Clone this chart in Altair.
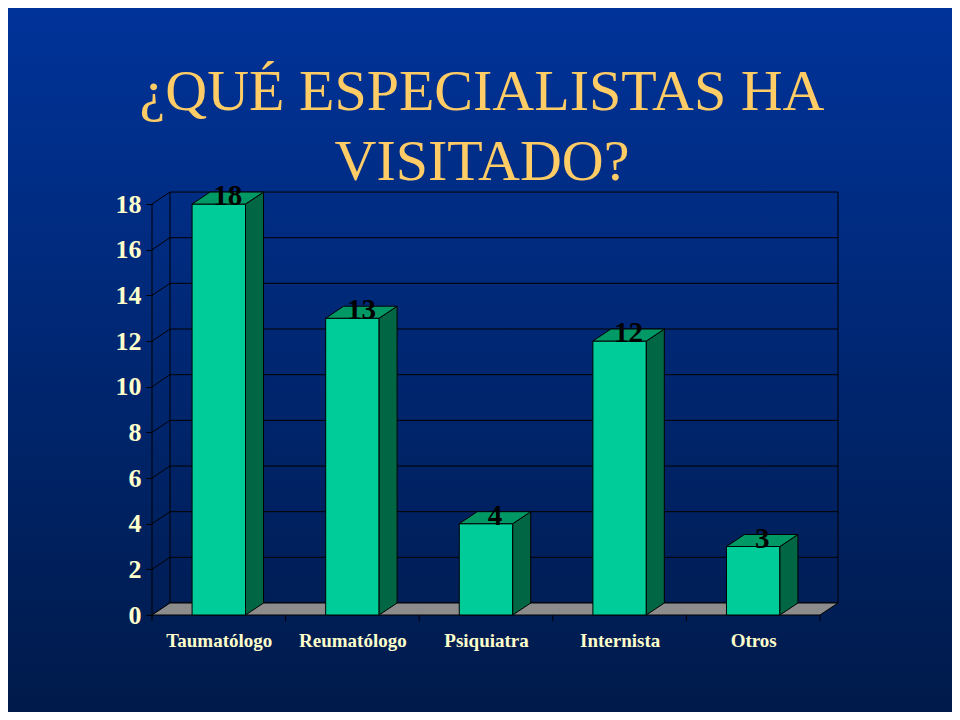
import altair as alt
import pandas as pd

# ---------------- data ----------------
CATEGORIES = ["Taumatólogo", "Reumatólogo", "Psiquiatra", "Internista", "Otros"]
VALUES = [18, 13, 4, 12, 3]
Y_TICKS = [0, 2, 4, 6, 8, 10, 12, 14, 16, 18]
TITLE_LINES = ["¿QUÉ ESPECIALISTAS HA", "VISITADO?"]

# ---------------- style ----------------
CW, CH = 944, 704     # whole chart
PX_X = 133.6          # pixels per category
PX_Y = 22.83          # pixels per value unit
DX = 18 / PX_X        # 3-D depth, horizontal (data units)
DY = 12 / PX_Y        # 3-D depth, vertical (data units)
HALF = 0.2            # half bar width (category units)
TICK = 6 / PX_Y
YMAX = max(Y_TICKS)
N = len(CATEGORIES)

X0, X1 = -0.5, N - 0.5 + DX
Y0, Y1 = 0, YMAX + DY
LEFT, BOTTOM = 144, 607                 # front axes position inside the chart
RIGHT = LEFT + (X1 - X0) * PX_X
TOP_ = BOTTOM - (Y1 - Y0) * PX_Y

FRONT = "#00CC99"
SIDE = "#006644"
TOP = "#009966"
FLOOR = "#8C8C8C"
LABEL = "#FFFFCC"
TITLE = "#FFCC66"
SERIF = "Liberation Serif"

xscale = alt.Scale(domain=[X0, X1], range=[LEFT, RIGHT], nice=False, zero=False)
yscale = alt.Scale(domain=[Y0, Y1], range=[BOTTOM, TOP_], nice=False, zero=False)

label_expr = "[" + ",".join("'" + c + "'" for c in CATEGORIES) + "][datum.value]"
xaxis = alt.Axis(values=list(range(N)), labelExpr=label_expr, ticks=False, domain=False,
                 grid=False, labelFont=SERIF, labelFontWeight="bold", labelFontSize=19,
                 labelColor=LABEL, labelPadding=16, labelAngle=0, labelFlush=False,
                 labelOverlap=False, title=None, offset=-(CH - BOTTOM), zindex=2)
yaxis = alt.Axis(values=Y_TICKS, ticks=True, tickColor="black", tickSize=6, tickWidth=1,
                 domain=False, grid=False, labelFont=SERIF, labelFontWeight="bold",
                 labelFontSize=26, labelColor=LABEL, labelPadding=5, title=None,
                 offset=-LEFT, zindex=2)


def X(f):
    return alt.X(f + ":Q", scale=xscale, axis=xaxis)


def Y(f):
    return alt.Y(f + ":Q", scale=yscale, axis=yaxis)


# ---------------- derived tables ----------------
rules = []
for v in Y_TICKS:
    rules.append(dict(x=X0 + DX, x2=N - 0.5 + DX, y=v + DY, y2=v + DY))   # back wall grid
    rules.append(dict(x=X0, x2=X0 + DX, y=v, y2=v + DY))                  # side wall diagonals
rules.append(dict(x=X0 + DX, x2=X0 + DX, y=DY, y2=YMAX + DY))
rules.append(dict(x=N - 0.5 + DX, x2=N - 0.5 + DX, y=DY, y2=YMAX + DY))
wall = pd.DataFrame(rules)

floor = pd.DataFrame([
    dict(x=X0, y=0, y2=0),
    dict(x=X0 + DX, y=DY, y2=0),
    dict(x=N - 0.5, y=DY, y2=0),
    dict(x=N - 0.5 + DX, y=DY, y2=DY),
])

front_lines = [dict(x=X0, x2=X0, y=0, y2=YMAX)]
for b in range(N + 1):
    front_lines.append(dict(x=b - 0.5, x2=b - 0.5, y=0, y2=-TICK))
front = pd.DataFrame(front_lines)

bars = pd.DataFrame(dict(cat=CATEGORIES, v=VALUES, i=list(range(N))))
bars["xl"] = bars.i - HALF
bars["xr"] = bars.i + HALF
bars["xt"] = bars.i + DX / 2

side_rows, top_rows = [], []
for i, (c, v) in enumerate(zip(CATEGORIES, VALUES)):
    side_rows += [dict(cat=c, x=i + HALF, y=v, y2=0),
                  dict(cat=c, x=i + HALF + DX, y=v + DY, y2=DY)]
    top_rows += [dict(cat=c, x=i - HALF, y=v, y2=v),
                 dict(cat=c, x=i - HALF + DX, y=v + DY, y2=v),
                 dict(cat=c, x=i + HALF, y=v + DY, y2=v),
                 dict(cat=c, x=i + HALF + DX, y=v + DY, y2=v + DY)]
side = pd.DataFrame(side_rows)
top = pd.DataFrame(top_rows)

# ---------------- layers ----------------
grad = alt.LinearGradient(gradient="linear", x1=0, x2=0, y1=0, y2=1,
                          stops=[alt.GradientStop(color="#003399", offset=0),
                                 alt.GradientStop(color="#001a4a", offset=1)])
bg = alt.Chart(pd.DataFrame({"a": [0]})).mark_rect(fill=grad).encode(
    x=alt.value(0), x2=alt.value(CW), y=alt.value(0), y2=alt.value(CH))

wall_layer = alt.Chart(wall).mark_rule(color="black", strokeWidth=1).encode(
    x=X("x"), x2="x2", y=Y("y"), y2="y2")

floor_layer = alt.Chart(floor).mark_area(fill=FLOOR, stroke="black", strokeWidth=1,
                                         interpolate="linear").encode(
    x=X("x"), y=Y("y"), y2="y2")

front_layer = alt.Chart(front).mark_rule(color="black", strokeWidth=1).encode(
    x=X("x"), x2="x2", y=Y("y"), y2="y2")

front_bars = alt.Chart(bars).mark_rect(fill=FRONT, stroke="black", strokeWidth=1).encode(
    x=X("xl"), x2="xr", y=Y("v"), y2=alt.Y2(datum=0))

side_layer = alt.Chart(side).mark_area(fill=SIDE, stroke="black", strokeWidth=1).encode(
    x=X("x"), y=Y("y"), y2="y2", detail="cat:N")

top_layer = alt.Chart(top).mark_area(fill=TOP, stroke="black", strokeWidth=1).encode(
    x=X("x"), y=Y("y"), y2="y2", detail="cat:N")

labels = alt.Chart(bars).mark_text(font=SERIF, fontWeight="bold", fontSize=29,
                                   color="black", baseline="alphabetic", dy=1).encode(
    x=X("xt"), y=Y("v"), text="v:Q")

chart = alt.layer(bg, wall_layer, floor_layer, front_layer, front_bars, side_layer,
                  top_layer, labels).properties(
    width=CW, height=CH,
    padding=0,
    autosize=alt.AutoSizeParams(type="none"),
    background="#001a4a",
    title=alt.TitleParams(text=TITLE_LINES, font=SERIF, fontSize=58, fontWeight="normal",
                          color=TITLE, lineHeight=70, anchor="middle", frame="group",
                          baseline="top", offset=-184, dx=2),
).configure_view(stroke=None)

chart.save("out.html", embed_options={"renderer": "svg", "actions": False})
